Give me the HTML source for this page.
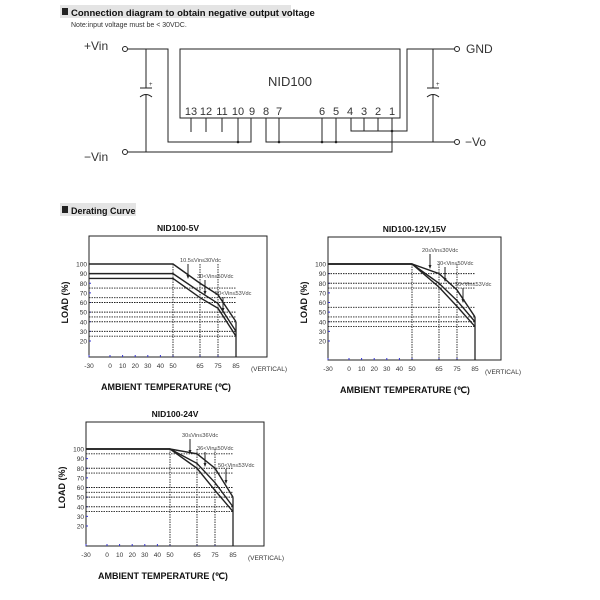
<!DOCTYPE html>
<html><head><meta charset="utf-8">
<style>
body{margin:0;background:#fff;}
svg{display:block;font-family:"Liberation Sans",sans-serif;}
</style></head>
<body>
<svg id="svg" width="600" height="600" viewBox="0 0 600 600" xmlns="http://www.w3.org/2000/svg">
<g stroke="#222" stroke-width="1" fill="none">
  <rect x="60" y="5" width="231" height="13" fill="#e4e4e4" stroke="none"/>
  <rect x="62" y="8" width="6" height="7" fill="#222" stroke="none"/>
  <text x="71" y="16" font-size="9.5" font-weight="bold" fill="#111" stroke="none">Connection diagram to obtain negative output voltage</text>
  <text x="71" y="27" font-size="7" fill="#333" stroke="none">Note:input voltage must be &lt; 30VDC.</text>
  <text x="84" y="50" font-size="12" fill="#333" stroke="none">+Vin</text>
  <text x="84" y="161" font-size="12" fill="#333" stroke="none">−Vin</text>
  <text x="466" y="53" font-size="12" fill="#333" stroke="none">GND</text>
  <text x="465" y="146" font-size="12" fill="#333" stroke="none">−Vo</text>
  <circle cx="125" cy="49" r="2.5"/><circle cx="125" cy="152" r="2.5"/>
  <circle cx="457" cy="49" r="2.5"/><circle cx="457" cy="142" r="2.5"/>
  <rect x="180" y="49" width="220" height="69"/>
  <text x="290" y="86" font-size="13" fill="#333" stroke="none" text-anchor="middle">NID100</text>
  <g font-size="11" fill="#333" stroke="none" text-anchor="middle">
    <text x="191" y="115">13</text><text x="206" y="115">12</text><text x="222" y="115">11</text><text x="238" y="115">10</text><text x="252" y="115">9</text><text x="266" y="115">8</text><text x="279" y="115">7</text><text x="322" y="115">6</text><text x="336" y="115">5</text><text x="350" y="115">4</text><text x="364" y="115">3</text><text x="378" y="115">2</text><text x="392" y="115">1</text>
  </g>
  <path d="M128 49H168V142H251V118M238 118V142M191 118V132M206 118V132M222 118V132"/>
  <path d="M266 118V142H454M279 118V142M322 118V142M336 118V142"/>
  <path d="M351 118V131H392M364 118V131M378 118V131M392 118V152H128M392 131H407V49H454"/>
  <path d="M146 49V88M146 95V152M140 88H152M140 97Q146 92 152 97"/>
  <path d="M433 49V88M433 95V142M427 88H439M427 97Q433 92 439 97"/>
  <g fill="#222" stroke="none"><circle cx="238" cy="142" r="1.3"/><circle cx="279" cy="142" r="1.3"/><circle cx="322" cy="142" r="1.3"/><circle cx="336" cy="142" r="1.3"/><circle cx="392" cy="131" r="1.3"/></g>
  <text x="149" y="86" font-size="6" fill="#333" stroke="none">+</text>
  <text x="436" y="86" font-size="6" fill="#333" stroke="none">+</text>
</g>
<rect x="60" y="203" width="76" height="13" fill="#e4e4e4"/>
<rect x="62" y="206" width="6" height="7" fill="#222"/>
<text x="71" y="214" font-size="9" font-weight="bold" fill="#111">Derating Curve</text>
<g id="charts"></g>
</svg>
<script>
const ticksX = [-30,0,10,20,30,40,50,65,75,85];
const ticksY = [100,90,80,70,60,50,40,30,20];
const temps = [-30,50,65,75,85];
const c1Titles = ["NID100-5V","NID100-12V,15V","NID100-24V"];
const c1s1 = [100,100,80,68,40];
const c1s2 = [90,90,71,59,30];
const c1s3 = [85,85,65,54,25];
const c1dots = [75,65,60,50,45,40,30,25];
const c2s1 = [100,100,90,73,45];
const c2s2 = [100,100,80,62,40];
const c2s3 = [100,100,76,56,35];
const c2dots = [90,80,75,55,45,40,35];
const c3s1 = [100,100,95,80,50];
const c3s2 = [100,100,85,65,40];
const c3s3 = [100,100,80,57,35];
const c3dots = [95,80,75,60,55,50,40,35];
const c1labels = ["10.5≤Vin≤30Vdc","30<Vin≤50Vdc","50<Vin≤53Vdc"];
const c2labels = ["20≤Vin≤30Vdc","30<Vin≤50Vdc","50<Vin≤53Vdc"];
const c3labels = ["30≤Vin≤36Vdc","36<Vin≤50Vdc","50<Vin≤53Vdc"];

const NS="http://www.w3.org/2000/svg";
const root=document.getElementById('charts');
function mk(tag,attrs,parent){const e=document.createElementNS(NS,tag);for(const k in attrs)e.setAttribute(k,attrs[k]);(parent||root).appendChild(e);return e;}

function drawChart(g,cfg,title,series,dots,labels){
  const X=t=> t<=0 ? cfg.xm30+(t+30)*0.7 : t<=50 ? cfg.xm30+21+t*1.26 : cfg.xm30+84+(t-50)*1.8;
  const Y=v=> cfg.y100+(100-v)*0.9625;
  const box=mk('rect',{x:cfg.xm30,y:cfg.top,width:cfg.right-cfg.xm30,height:cfg.bot-cfg.top,fill:'none',stroke:'#222','stroke-width':1},g);
  
  
  const tt=mk('text',{x:(cfg.xm30+cfg.right)/2,y:cfg.top-5,'font-size':8.5,'font-weight':'bold','text-anchor':'middle',fill:'#111'},g);
  tt.textContent=title;
  
  
  ticksY.forEach(v=>{
    const t=mk('text',{x:cfg.xm30-2,y:Y(v)+2.5,'font-size':6.5,'text-anchor':'end',fill:'#333'},g);
    t.textContent=v;
    
    
    mk('line',{x1:cfg.xm30,x2:cfg.xm30+2,y1:Y(v),y2:Y(v),stroke:'#33c'},g);
  });
  ticksX.forEach(v=>{
    const t=mk('text',{x:X(v),y:cfg.bot+11,'font-size':6.5,'text-anchor':'middle',fill:'#333'},g);
    t.textContent=v;
    
    
    mk('line',{x1:X(v),x2:X(v),y1:cfg.bot,y2:cfg.bot-2,stroke:'#33c'},g);
  });
  const vt=mk('text',{x:cfg.right-16,y:cfg.bot+14,'font-size':6.5,fill:'#333'},g);
  vt.textContent='(VERTICAL)';
  
  
  const xt=mk('text',{x:cfg.xm30+12,y:cfg.bot+33,'font-size':9,'font-weight':'bold',fill:'#111'},g);
  xt.textContent='AMBIENT TEMPERATURE (℃)';
  
  
  const yt=mk('text',{x:0,y:0,'font-size':9,'font-weight':'bold','text-anchor':'middle',fill:'#111',transform:`translate(${cfg.xm30-21},${Y(60)}) rotate(-90)`},g);
  yt.textContent='LOAD (%)';
  
  
  dots.forEach(v=>{
    const l=mk('line',{x1:cfg.xm30,x2:X(85),y1:Y(v),y2:Y(v),stroke:'#222','stroke-width':0.9,'stroke-dasharray':'1.5,1'},g);
    
    
  });
  [50,65,75].forEach(v=>{
    const l=mk('line',{x1:X(v),x2:X(v),y1:Y(100),y2:cfg.bot,stroke:'#222','stroke-width':0.9,'stroke-dasharray':'1.5,1'},g);
    
    
  });
  const vl=mk('line',{x1:X(85),x2:X(85),y1:Y(series[0][4]),y2:cfg.bot,stroke:'#222','stroke-width':1.3},g);
  
  
  series.forEach((s,i)=>{
    const p=mk('polyline',{points:temps.map((t,j)=>X(t)+','+Y(s[j])).join(' '),fill:'none',stroke:'#222','stroke-width':1.4},g);
    
    
    const lx=cfg.lx[i], ly=cfg.y100+cfg.ly[i];
    const px=lx+8;
    const a=mk('line',{x1:px,x2:px,y1:ly+2,y2:ly+16,stroke:'#222','stroke-width':1},g);
    
    
    mk('path',{d:`M${px-1.5} ${ly+13}L${px} ${ly+17}L${px+1.5} ${ly+13}Z`,fill:'#222'},g);
    const lt=mk('text',{x:lx,y:ly,'font-size':5.6,fill:'#444'},g);
    lt.textContent=labels[i];
    
    
  });
}
const cfgs=[
 {xm30:89,right:267,top:236,bot:357,y100:264,lx:[180,197,215],ly:[-2,14,31]},
 {xm30:328,right:501,top:237,bot:360,y100:264,lx:[422,437,455],ly:[-12,1,22]},
 {xm30:86,right:264,top:422,bot:546,y100:449,lx:[182,197,218],ly:[-12,1,18]}
];
const allS=[[c1s1,c1s2,c1s3],[c2s1,c2s2,c2s3],[c3s1,c3s2,c3s3]];
const allD=[c1dots,c2dots,c3dots];
const allL=[c1labels,c2labels,c3labels];
cfgs.forEach((c,i)=>{
  const g=mk('g',{});
  
  
  drawChart(g,c,c1Titles[i],allS[i],allD[i],allL[i]);
});
</script>
</body></html>
